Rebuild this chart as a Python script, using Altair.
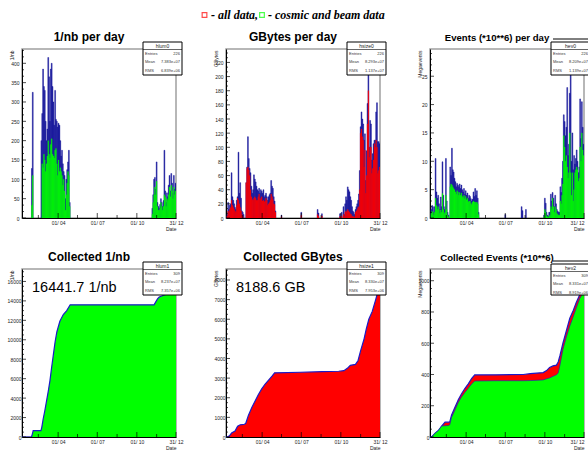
import altair as alt
import pandas as pd

FONT = "Liberation Sans"
SERIF = "Liberation Serif"
NAVY = "#15159a"
LINE_BLUE = "#1a1ac8"
GREEN = "#00ff00"
RED = "#ff0000"
FRAME = "#a0a0a0"

W, HT, HB = 154, 169, 168
DAY0, DAY1 = 7, 365

quarter_days = [91, 182, 274, 365]
quarter_labels = ["01/ 04", "01/ 07", "01/ 10", "31/ 12"]
half_days = [45, 136, 228, 320]

legend_labels = ["- all data,", "- cosmic and beam data"]
legend_colors = [RED, GREEN]

# ---------------- per-day histograms: (first day of 2-day bin, values) ----------------
lumi_all = [
    (29, [128, 325]),
    (51, [200, 270, 385, 340, 330, 250, 200, 230, 415, 365, 250, 385, 400, 340, 300, 240, 330, 255,
          250, 235, 245, 240, 200, 160, 175, 140, 120, 110, 50, 100, 125, 145, 175, 40]),
    (309, [25, 60, 100, 105, 75, 145, 40, 30, 25, 35, 50, 40, 30, 45, 175, 70, 40, 65, 55, 85,
           110, 70, 115, 90, 65, 110, 75, 90]),
]
lumi_beam = [
    (29, [33, 110]),
    (51, [0, 140, 130, 165, 150, 120, 140, 160, 200, 165, 155, 190, 205, 165, 160, 155, 175, 180,
          140, 110, 150, 120, 130, 120, 110, 85, 100, 70, 20, 60, 90, 120, 110, 30]),
    (309, [10, 40, 60, 80, 60, 95, 30, 20, 20, 25, 40, 30, 20, 30, 60, 55, 30, 50, 45, 60,
           80, 55, 85, 70, 50, 80, 60, 70]),
]

gb_all = [
    (9, [5, 22, 12, 18, 20, 64, 30, 25, 20, 15, 12, 25, 30, 93, 35, 50, 28, 10, 8, 5, 0]),
    (51, [0, 50, 72, 115, 84, 70, 64, 45, 35, 40, 61, 55, 51, 45, 40, 38, 42, 35, 40, 38,
          35, 40, 30, 32, 35, 30, 25, 30, 33, 35, 53, 45, 42, 30, 24, 10]),
    (135, [4]), (181, [8]), (219, [12, 7]), (229, [6]),
    (271, [6, 0, 8, 0, 16, 5, 20, 30, 25, 44, 40, 37, 30, 25, 16, 10, 8, 5, 12, 16,
           20, 25, 34, 67, 129, 150, 140, 133, 110, 119, 53, 95, 162, 207, 100, 138, 133, 82, 91, 105,
           110, 110, 150, 163, 108, 108, 105]),
]
gb_fill = [
    (9, [3, 10, 8, 12, 15, 25, 18, 15, 12, 10, 8, 18, 28, 25, 20, 15, 10, 5, 3, 0, 0]),
    (51, [0, 50, 70, 72, 68, 60, 40, 30, 26, 25, 28, 30, 28, 25, 25, 30, 34, 28, 26, 30,
          24, 25, 23, 24, 28, 25, 18, 20, 22, 25, 34, 30, 26, 20, 19, 8]),
    (135, [2]), (181, [4]), (219, [5, 3]), (229, [3]),
    (271, [2, 0, 3, 0, 5, 2, 8, 10, 8, 12, 10, 8, 6, 5, 3, 2, 2, 1, 8, 10,
           12, 15, 16, 40, 120, 126, 115, 110, 72, 96, 35, 60, 133, 180, 86, 100, 100, 63, 70, 82,
           105, 100, 110, 100, 63, 67, 72]),
]

ev_all = [
    (9, [1.5, 2.2, 2.0, 1.0, 2.0, 10.5, 4.6, 3.5, 4.0, 2.5, 1.5, 3.7, 2.0, 9.9, 4.0, 1.5, 2.0, 10.5, 3.0, 1.0, 0.5]),
    (53, [9.0, 7.5, 12.3, 8.5, 8.1, 7.0, 6.4, 5.5, 6.1, 5.8, 5.5, 6.0, 5.2, 5.8, 5.0, 4.6, 5.2, 4.2,
          4.8, 4.0, 4.4, 3.5, 4.0, 3.8, 3.4, 3.0, 3.3, 4.6, 3.8, 5.2, 4.0, 4.8, 3.5, 1.0]),
    (181, [0.6]), (219, [2.0, 1.3]), (229, [1.5]),
    (271, [0.5, 3.5, 2.6, 1.0, 0.5, 0.3, 1.0, 1.0, 4.2, 3.0, 4.5, 3.5, 2.0, 4.0, 2.5, 1.5, 1.2, 1.0, 1.0, 5.5,
           4.5, 7.0, 10.0, 18.2, 17.0, 14.5, 16.0, 23.0, 11.0, 13.0, 22.0, 28.4, 10.0, 15.0, 8.5, 11.0, 9.5,
           10.5, 12.0, 10.0, 8.0, 9.0, 21.0, 14.0, 20.5, 16.0, 13.0]),
]
ev_beam = [
    (9, [0.8, 1.2, 1.0, 0.5, 1.0, 3.5, 2.2, 1.5, 2.0, 1.5, 0.8, 1.4, 1.0, 4.3, 1.5, 0.8, 1.0, 4.0, 1.5, 0.5, 0.2]),
    (53, [5.5, 6.0, 5.8, 5.5, 5.2, 5.0, 4.6, 4.2, 4.8, 4.6, 4.0, 4.5, 4.0, 4.4, 3.8, 3.6, 4.0, 3.4,
          3.8, 3.2, 3.5, 2.8, 3.0, 3.0, 2.6, 2.4, 2.8, 3.0, 2.8, 2.8, 2.6, 2.8, 2.5, 0.6]),
    (271, [0.2, 1.5, 1.0, 0.4, 0.2, 0.1, 0.4, 0.5, 2.0, 1.5, 3.5, 2.0, 1.0, 2.0, 1.5, 0.8, 0.6, 0.5, 0.5, 3.0,
           2.5, 4.0, 6.0, 14.5, 12.5, 10.0, 11.0, 9.0, 7.0, 8.0, 15.0, 8.0, 4.0, 8.0, 3.0, 5.0, 8.0,
           8.5, 9.0, 8.5, 6.5, 7.0, 12.5, 10.0, 15.0, 12.0, 11.0]),
]

# ---------------- cumulative curves ----------------
lumi_cum_days = [7, 29, 31, 33, 51, 53, 56, 60, 64, 68, 72, 76, 80, 84, 88, 95, 103, 111, 119,
                 314, 318, 322, 326, 332, 338, 344, 350, 356, 360, 365]
lumi_cum_vals = [0, 0, 300, 650, 650, 1000, 1800, 2700, 3700, 4700, 5800, 7200, 8500, 9800, 10800,
                 11900, 12600, 13000, 13600, 13600, 13900, 14200, 14400, 14500, 14600, 14700, 14900,
                 15400, 15900, 16441.7]

gb_cum_days = [7, 10, 15, 20, 28, 34, 40, 50, 53, 59, 67, 75, 82, 90, 98, 106, 114, 120, 180, 230,
               269, 281, 289, 296, 308, 314, 320, 328, 333, 339, 347, 355, 361, 365]
gb_cum_vals = [0, 0, 60, 200, 300, 550, 620, 650, 700, 1100, 1500, 1850, 2150, 2450, 2700, 2900,
               3100, 3270, 3300, 3330, 3350, 3380, 3500, 3650, 3700, 3900, 4400, 5000, 5500, 6000,
               6400, 7000, 7500, 8188.6]

ev_cum_days = [7, 11, 19, 26, 34, 42, 50, 53, 57, 65, 73, 80, 88, 96, 104, 111, 160, 224, 240, 270,
               278, 285, 293, 301, 305, 309, 316, 324, 332, 340, 347, 355, 365]
ev_cum_all = [0, 0, 25, 40, 70, 95, 95, 97, 140, 190, 240, 275, 310, 340, 375, 397, 398, 400, 405,
              412, 425, 445, 455, 460, 480, 520, 600, 680, 760, 810, 860, 910, 952]
ev_cum_beam = [0, 0, 25, 40, 70, 72, 74, 78, 125, 172, 222, 255, 285, 312, 340, 358, 360, 360, 361,
               365, 372, 378, 388, 398, 410, 458, 560, 640, 710, 770, 825, 885, 932]

# ---------------- stats boxes ----------------
stats_names = ["hlum0", "hsize0", "hev0", "hlum1", "hsize1", "hev2"]
stats_entries = ["226", "226", "226", "309", "309", "309"]
stats_mean = ["7.383e+07", "8.293e+07", "8.209e+07", "8.237e+07", "8.330e+07", "8.331e+07"]
stats_rms = ["6.839e+06", "1.137e+07", "1.139e+07", "7.357e+06", "7.953e+06", "8.919e+06"]

LABEL_EXPR = " : ".join(f"datum.value == {d} ? '{l}'" for d, l in zip(quarter_days, quarter_labels)) + " : ''"
ONE = pd.DataFrame({"k": [0]})


def daily(segs):
    rows = []
    for start, vals in segs:
        for i, v in enumerate(vals):
            if v > 0:
                rows.append({"d": start + 2 * i, "d2": start + 2 * i + 2, "v": v})
    return pd.DataFrame(rows)


def x_axis(flush=False):
    return alt.Axis(values=quarter_days, labelExpr=LABEL_EXPR, title="Date", titleAnchor="end",
                    titleFont=FONT, titleFontSize=5, titleFontWeight="normal", titlePadding=1,
                    titleColor="#222222",
                    labelFont=FONT, labelFontSize=5, labelColor="#222222", labelPadding=2,
                    labelFlush=flush, labelOverlap=False, ticks=False, grid=False,
                    domainColor="black", domainWidth=1)


def y_axis(title, values, pad):
    return alt.Axis(values=values, format="d", title=title, titleFont=FONT, titleFontSize=5,
                    titleFontWeight="normal", titleColor="#222222", titleAngle=270, titleAlign="right",
                    titleBaseline="middle", titleX=-11, titleY=1,
                    labelFont=FONT, labelFontSize=5, labelColor="#222222", labelPadding=pad,
                    labelFlush=False, labelOverlap=False, ticks=False, grid=False,
                    domainColor="black", domainWidth=1)


def frame_ticks(xs, ys, xa, ya, ystep, nsub, ymax, h):
    ymaj = [i * ystep for i in range(int(ymax // ystep) + 1)]
    ymin = [k * ystep / nsub for k in range(int(ymax * nsub // ystep) + 1) if k % nsub != 0]
    out = []
    for vals, ln in ((ymaj, 4), (ymin, 2)):
        out.append(alt.Chart(pd.DataFrame({"v": vals})).mark_rule(color="black", strokeWidth=0.7).encode(
            y=alt.Y("v:Q", scale=ys, axis=ya), x=alt.value(0), x2=alt.value(ln)))
    for vals, ln in ((quarter_days, 5), (half_days, 3)):
        out.append(alt.Chart(pd.DataFrame({"d": vals})).mark_rule(color="black", strokeWidth=0.7).encode(
            x=alt.X("d:Q", scale=xs, axis=xa), y=alt.value(h), y2=alt.value(h - ln)))
    return out


def stats_box(i, top=-7, bottom=26, extra_line=None):
    base = alt.Chart(ONE)
    lay = []
    if extra_line is not None:
        lay.append(base.mark_rule(color="black", strokeWidth=1).encode(
            x=alt.value(123), x2=alt.value(162), y=alt.value(extra_line)))
    lay += [
        base.mark_rect(fill="white", stroke="black", strokeWidth=1).encode(
            x=alt.value(121), x2=alt.value(160), y=alt.value(top), y2=alt.value(bottom)),
        base.mark_rule(color="black", strokeWidth=0.6).encode(
            x=alt.value(121), x2=alt.value(160), y=alt.value(top + 7.5)),
        base.mark_text(text=stats_names[i], font=FONT, fontSize=5, align="center", baseline="middle",
                       color="#222222").encode(x=alt.value(140.5), y=alt.value(top + 4)),
        base.mark_text(text="Entries\nMean\nRMS", lineBreak="\n", lineHeight=8.7, font=FONT, fontSize=4,
                       align="left", baseline="top", color="#333333").encode(
            x=alt.value(123), y=alt.value(top + 9.5)),
        base.mark_text(text=f"{stats_entries[i]}\n{stats_mean[i]}\n{stats_rms[i]}", lineBreak="\n",
                       lineHeight=8.7, font=FONT, fontSize=4, align="right", baseline="top",
                       color="#333333").encode(x=alt.value(158), y=alt.value(top + 9.5)),
    ]
    return lay


def title_mark(text, size):
    return alt.Chart(ONE).mark_text(text=text, font=FONT, fontSize=size, fontWeight="bold", align="center",
                                    baseline="alphabetic", color="black").encode(
        x=alt.value(W / 2 - 10), y=alt.value(-8))


def per_day_panel(title, tsize, ytitle, ymax, ystep, nsub, all_segs, fill_segs, fill_color, box_i,
                  extra=(), extra_line=None, flush=False):
    xs = alt.Scale(domain=[DAY0, DAY1], nice=False, zero=False)
    ys = alt.Scale(domain=[0, ymax], nice=False, zero=True)
    ymaj = [i * ystep for i in range(int(ymax // ystep) + 1)]
    xa = x_axis(flush)
    ya = y_axis(ytitle, ymaj, 3)
    ticks = frame_ticks(xs, ys, xa, ya, ystep, nsub, ymax, HT)
    blue = alt.Chart(daily(all_segs)).mark_bar(color=NAVY, stroke=NAVY, strokeWidth=0.45, clip=True).encode(
        x=alt.X("d:Q", scale=xs, axis=xa), x2="d2:Q",
        y=alt.Y("v:Q", scale=ys, axis=ya), y2=alt.datum(0))
    fill = alt.Chart(daily(fill_segs)).mark_bar(color=fill_color, stroke=fill_color, strokeWidth=0.25,
                                                 clip=True).encode(
        x=alt.X("d:Q", scale=xs, axis=xa), x2="d2:Q", y=alt.Y("v:Q", scale=ys, axis=ya), y2=alt.datum(0))
    layers = ([blue, fill] + ticks + stats_box(box_i, extra_line=extra_line) + [title_mark(title, tsize)]
              + list(extra))
    return alt.layer(*layers).properties(width=W, height=HT)


def cum_panel(title, tsize, ytitle, ymax, ystep, nsub, curves, box_i, big_text=None, top=-7,
              extra_line=None, flush=False):
    xs = alt.Scale(domain=[DAY0, DAY1], nice=False, zero=False)
    ys = alt.Scale(domain=[0, ymax], nice=False, zero=True)
    ymaj = [i * ystep for i in range(int(ymax // ystep) + 1)]
    xa = x_axis(flush)
    ya = y_axis(ytitle, ymaj, 1)
    ticks = frame_ticks(xs, ys, xa, ya, ystep, nsub, ymax, HB)
    layers = []
    for days, vals, color, lw in curves:
        df = pd.DataFrame({"d": days, "v": vals})
        xe = alt.X("d:Q", scale=xs, axis=xa)
        ye = alt.Y("v:Q", scale=ys, axis=ya)
        layers.append(alt.Chart(df).mark_area(color=color, clip=True).encode(x=xe, y=ye))
        layers.append(alt.Chart(df).mark_line(color=LINE_BLUE, strokeWidth=lw, clip=True).encode(x=xe, y=ye))
    layers += ticks
    layers += stats_box(box_i, top=top, extra_line=extra_line)
    layers.append(title_mark(title, tsize))
    if big_text:
        layers.append(alt.Chart(ONE).mark_text(text=big_text, font=FONT, fontSize=14.5, align="left",
                                               baseline="alphabetic", color="black").encode(
            x=alt.value(10), y=alt.value(23)))
    return alt.layer(*layers).properties(width=W, height=HB)


# header legend (drawn in the middle top panel's coordinate frame)
hdr = alt.Chart(ONE)
header = [
    hdr.mark_point(shape="square", filled=False, color=legend_colors[0], size=22, strokeWidth=1.2).encode(
        x=alt.value(-21.5), y=alt.value(-34)),
    hdr.mark_text(text=legend_labels[0], font=SERIF, fontSize=12, fontStyle="italic", fontWeight="bold",
                  align="left", baseline="alphabetic", color="black").encode(x=alt.value(-15), y=alt.value(-30)),
    hdr.mark_point(shape="square", filled=False, color=legend_colors[1], size=22, strokeWidth=1.2).encode(
        x=alt.value(36), y=alt.value(-34)),
    hdr.mark_text(text=legend_labels[1], font=SERIF, fontSize=12, fontStyle="italic", fontWeight="bold",
                  align="left", baseline="alphabetic", color="black").encode(x=alt.value(42), y=alt.value(-30)),
]

p1 = per_day_panel("1/nb per day", 12, "1/nb", 437, 50, 3, lumi_all, lumi_beam, GREEN, 0)
p2 = per_day_panel("GBytes per day", 12, "GBytes", 239, 20, 3, gb_all, gb_fill, RED, 1, extra=header)
p3 = per_day_panel("Events (*10**6) per day", 9.6, "Megaevents", 29.8, 5, 5, ev_all, ev_beam, GREEN, 2,
                   extra_line=-10, flush=True)
p4 = cum_panel("Collected 1/nb", 12, "1/nb", 17280, 2000, 4,
               [(lumi_cum_days, lumi_cum_vals, GREEN, 1.2)], 3, big_text="16441.7 1/nb")
p5 = cum_panel("Collected GBytes", 12, "GBytes", 8560, 1000, 4,
               [(gb_cum_days, gb_cum_vals, RED, 1.2)], 4, big_text="8188.6 GB")
p6 = cum_panel("Collected Events (*10**6)", 9.6, "Megaevents", 1075, 200, 4,
               [(ev_cum_days, ev_cum_all, RED, 1.2), (ev_cum_days, ev_cum_beam, GREEN, 0.6)], 5,
               top=-5, extra_line=-8, flush=True)

chart = alt.concat(p1, p2, p3, p4, p5, p6, columns=3, spacing={"row": 51, "column": 50},
                   bounds="flush").properties(
    autosize=alt.AutoSizeParams(type="none"),
    padding={"left": 22, "top": 49, "right": 566, "bottom": 402}, background="white"
).configure_view(stroke=FRAME, strokeWidth=1.5)

chart.save("out.html", embed_options={"renderer": "svg", "actions": False})
